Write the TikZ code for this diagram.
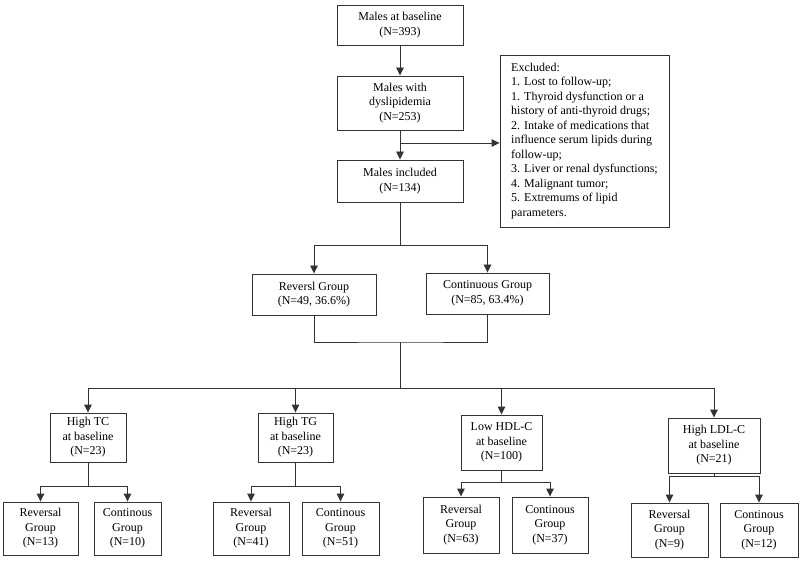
\documentclass[tikz,border=0pt]{standalone}
\usepackage{fontspec}
\setmainfont{Liberation Serif}
\usetikzlibrary{arrows.meta,positioning}

\tikzset{
  box/.style={draw=black!80, line width=0.9pt, align=center, inner sep=0pt,
    font=\fontsize{12}{14.5}\selectfont},
  arr/.style={draw=black!80, line width=0.9pt, -{Triangle[width=7.5pt,length=8pt]}},
  ln/.style={draw=black!80, line width=0.9pt}
}

\begin{document}
\begin{tikzpicture}[x=1pt,y=-1pt]
\useasboundingbox (0,0) rectangle (800,561);

% ── Main column ───────────────────────────────────────────────
\node[box, minimum width=126, minimum height=40] (base) at (400,25)
  {Males at baseline\\(N=393)};
\node[box, minimum width=126, minimum height=54] (dys) at (400,103)
  {Males with\\dyslipidemia\\(N=253)};
\node[box, minimum width=126, minimum height=42] (incl) at (400,181)
  {Males included\\(N=134)};
\node[box, align=left, minimum width=169, minimum height=172] (excl) at (584.5,141)
  {Excluded:\\1. Lost to follow-up;\\1. Thyroid dysfunction or a\\history of anti-thyroid drugs;\\
   2. Intake of medications that\\influence serum lipids during\\follow-up;\\
   3. Liver or renal dysfunctions;\\4. Malignant tumor;\\5. Extremums of lipid\\parameters.};

% ── Groups ───────────────────────────────────────────────────
\node[box, minimum width=124, minimum height=41] (rev) at (314,294.5)
  {Reversl Group\\(N=49, 36.6\%)};
\node[box, minimum width=123, minimum height=41] (cont) at (487.5,293.5)
  {Continuous Group\\(N=85, 63.4\%)};

% ── Lipid subgroups ──────────────────────────────────────────
\node[box, minimum width=76, minimum height=49] (tc)  at (88,437.5)   {High TC\\at baseline\\(N=23)};
\node[box, minimum width=75, minimum height=49] (tg)  at (295.5,437.5) {High TG\\at baseline\\(N=23)};
\node[box, minimum width=81, minimum height=55] (hdl) at (501.5,442.5) {Low HDL-C\\at baseline\\(N=100)};
\node[box, minimum width=92, minimum height=55] (ldl) at (714,445.5)   {High LDL-C\\at baseline\\(N=21)};

% ── Leaves ───────────────────────────────────────────────────
\node[box, minimum width=75, minimum height=53] (tcR)  at (40.5,528.5)  {Reversal\\Group\\(N=13)};
\node[box, minimum width=67, minimum height=53] (tcC)  at (127.5,528.5) {Continous\\Group\\(N=10)};
\node[box, minimum width=76, minimum height=53] (tgR)  at (251,528.5)   {Reversal\\Group\\(N=41)};
\node[box, minimum width=77, minimum height=53] (tgC)  at (340.5,528.5) {Continous\\Group\\(N=51)};
\node[box, minimum width=76, minimum height=56] (hdlR) at (461,525)     {Reversal\\Group\\(N=63)};
\node[box, minimum width=76, minimum height=56] (hdlC) at (550,525)     {Continous\\Group\\(N=37)};
\node[box, minimum width=77, minimum height=54] (ldlR) at (669.5,530)   {Reversal\\Group\\(N=9)};
\node[box, minimum width=78, minimum height=54] (ldlC) at (759,530)     {Continous\\Group\\(N=12)};

% ── Junction points ──────────────────────────────────────────
\coordinate (jex)  at (400,143);
\coordinate (jgr)  at (400,245);
\coordinate (jmer) at (400,342);
\coordinate (jlip) at (400,388);
\coordinate (jtc)  at (88,486);
\coordinate (jtg)  at (295.5,486);
\coordinate (jhdl) at (501.5,482);
\coordinate (jldl) at (714,476);

% ── Connectors ───────────────────────────────────────────────
\draw[arr] (base) -- (dys);
\draw[arr] (dys) -- (incl);
\draw[arr] (jex) -- (excl.west |- jex);

\draw[ln] (incl) -- (jgr);
\draw[arr] (jgr) -| (rev);
\draw[arr] (jgr) -| (cont);

\draw[ln] (rev) |- (jmer) -| (cont);
\draw[ln] (jmer) -- (jlip);
\foreach \n in {tc,tg,hdl,ldl}
  \draw[arr] (jlip) -| (\n);

\foreach \p/\a/\b in {tc/tcR/tcC, tg/tgR/tgC, hdl/hdlR/hdlC, ldl/ldlR/ldlC} {
  \draw[ln] (\p) -- (j\p);
  \draw[arr] (j\p) -| (\a);
  \draw[arr] (j\p) -| (\b);
}

\end{tikzpicture}
\end{document}
